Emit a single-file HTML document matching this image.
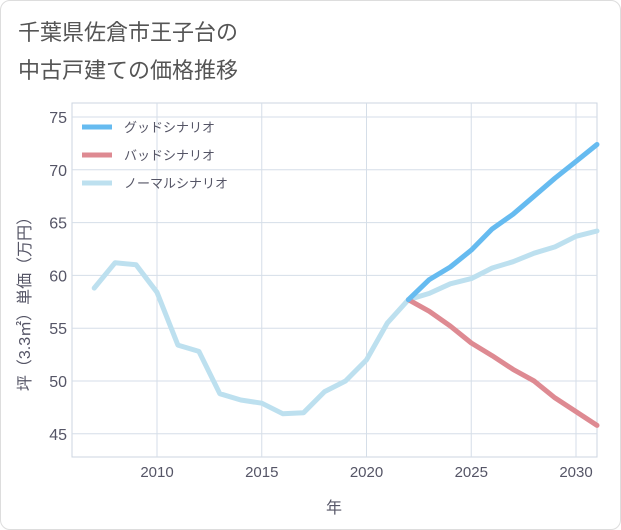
<!DOCTYPE html>
<html><head><meta charset="utf-8"><style>
body{margin:0;background:#fff;font-family:"Liberation Sans","Noto Sans CJK JP",sans-serif;}
#frame{position:absolute;left:0;top:0;width:619px;height:528px;border:1px solid #ddd;border-radius:10px;background:#fff;}
#title{position:absolute;left:18px;top:14px;font-size:22px;line-height:38px;color:#555;}
</style></head><body>
<div id="frame"></div>
<div id="title">千葉県佐倉市王子台の<br>中古戸建ての価格推移</div>
<svg id="chart" width="621" height="530" style="position:absolute;left:0;top:0"></svg>
<script>
const years=[2007,2008,2009,2010,2011,2012,2013,2014,2015,2016,2017,2018,2019,2020,2021,2022,2023,2024,2025,2026,2027,2028,2029,2030,2031];
const normal=[58.8,61.2,61.0,58.4,53.4,52.8,48.8,48.2,47.9,46.9,47.0,49.0,50.0,52.0,55.5,57.7,58.3,59.2,59.7,60.7,61.3,62.1,62.7,63.7,64.2];
const fYears=[2022,2023,2024,2025,2026,2027,2028,2029,2030,2031];
const good=[57.7,59.6,60.8,62.4,64.4,65.8,67.5,69.2,70.8,72.4];
const bad=[57.7,56.6,55.2,53.6,52.4,51.1,50.0,48.4,47.1,45.8];
const xTicks=[2010,2015,2020,2025,2030];
const yTicks=[45,50,55,60,65,70,75];
const legendLabels=["グッドシナリオ","バッドシナリオ","ノーマルシナリオ"];
const L=72,R=597,T=103,B=457;
const x=v=>157+(v-2010)*20.95;
const y=v=>117+(75-v)*10.56;
const svg=document.getElementById('chart');
const NS='http://www.w3.org/2000/svg';
function mk(tag,attrs,parent){const e=document.createElementNS(NS,tag);for(const k in attrs)e.setAttribute(k,attrs[k]);(parent||svg).appendChild(e);return e;}
let bg=mk('rect',{x:L,y:T,width:R-L,height:B-T,fill:'#fff',stroke:'#ccd6e0'});


xTicks.forEach(t=>{
 let g=mk('line',{x1:x(t),x2:x(t),y1:T,y2:B,stroke:'#d5dee8'});
 
 
 let tx=mk('text',{x:x(t),y:B+20,'text-anchor':'middle','font-size':'15',fill:'#556'});
 tx.textContent=t;
 
 
});
yTicks.forEach(t=>{
 let g=mk('line',{x1:L,x2:R,y1:y(t),y2:y(t),stroke:'#d5dee8'});
 
 
 let tx=mk('text',{x:L-5,y:y(t)+6,'text-anchor':'end','font-size':'16',fill:'#556'});
 tx.textContent=t;
 
 
});
function line(xs,ys,color,name){
 const d=xs.map((v,i)=>(i?'L':'M')+x(v).toFixed(1)+','+y(ys[i]).toFixed(1)).join(' ');
 let p=mk('path',{d:d,fill:'none',stroke:color,'stroke-width':'5','stroke-linejoin':'round','stroke-linecap':'round'});
 
 
}
line(years,normal,'#bde0ef','normal-scenario-line');
line(fYears,bad,'#de8a92','bad-scenario-line');
line(fYears,good,'#66bbf0','good-scenario-line');
const lc=['#66bbf0','#de8a92','#bde0ef'];
legendLabels.forEach((s,i)=>{
 const yy=127+i*28;
 let l=mk('line',{x1:82,x2:112,y1:yy,y2:yy,stroke:lc[i],'stroke-width':'5'});
 
 
 let t=mk('text',{x:124,y:yy+5,'font-size':'13',fill:'#556'});
 t.textContent=s;
 
 
});
let xt=mk('text',{x:334,y:513,'text-anchor':'middle','font-size':'16',fill:'#556'});
xt.textContent='年';


let yt=mk('text',{x:0,y:0,'text-anchor':'middle','font-size':'16',fill:'#556',transform:'translate(30,300) rotate(-90)'});
yt.textContent='坪（3.3㎡）単価（万円）';


</script>
</body></html>
